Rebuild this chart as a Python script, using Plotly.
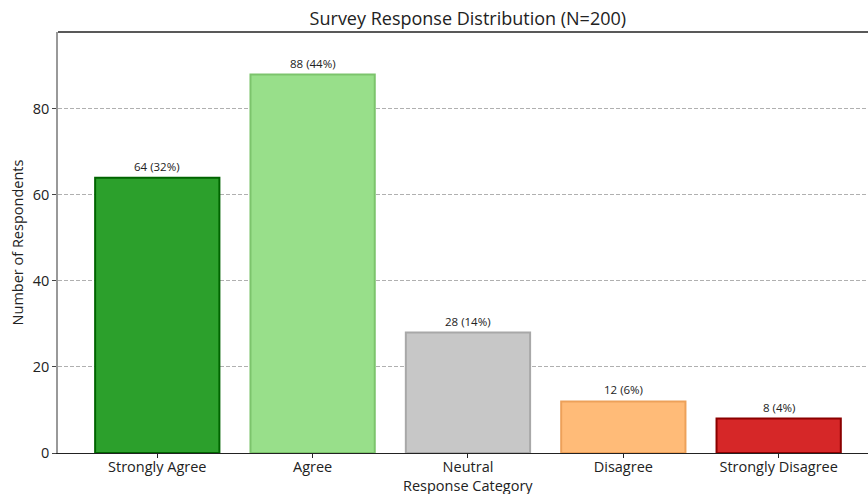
import plotly.graph_objects as go

categories = ["Strongly Agree", "Agree", "Neutral", "Disagree", "Strongly Disagree"]
counts = [64, 88, 28, 12, 8]
total = 200
fill_colors = ["#2ca02c", "#98df8a", "#c7c7c7", "#ffbb78", "#d62728"]
edge_colors = ["#006400", "#7cc46c", "#a8a8a8", "#eda15a", "#8b0000"]
y_ticks = [0, 20, 40, 60, 80]

FONT = "Open Sans, sans-serif"

labels = [f"{c} ({round(c / total * 100)}%)" for c in counts]
xs = list(range(len(categories)))

fig = go.Figure()
fig.add_trace(go.Bar(
    x=xs, y=counts, width=0.8,
    marker=dict(color=fill_colors, line=dict(color=edge_colors, width=2)),
    hoverinfo="skip",
))

for x, c, t in zip(xs, counts, labels):
    fig.add_annotation(x=x, y=c, text=t, showarrow=False, yanchor="bottom",
                       yshift=2, font=dict(size=11.5, color="#222", family=FONT))

# x-axis title
fig.add_annotation(xref="paper", yref="paper", x=0.506, y=0, yanchor="middle",
                   xanchor="center", yshift=-32, showarrow=False,
                   text="Response Category", font=dict(size=14.5, color="#222", family=FONT))

# top spine
fig.add_shape(type="line", xref="paper", yref="paper", x0=0, x1=1, y0=1, y1=1,
              line=dict(color="#222", width=1.5))

fig.update_layout(
    width=868, height=494,
    margin=dict(l=58, r=0, t=32, b=41),
    plot_bgcolor="white", paper_bgcolor="white",
    showlegend=False,
    font=dict(family=FONT, color="#222"),
    title=dict(text="Survey Response Distribution (N=200)", xref="paper", x=0.506,
               xanchor="center", y=0.962, yanchor="middle",
               font=dict(size=18, color="#222", family=FONT)),
    bargap=0.2,
)
fig.update_xaxes(
    range=[-0.639, 4.575], tickvals=xs, ticktext=categories,
    showline=True, linecolor="#222", linewidth=1.2,
    ticks="outside", ticklen=4, tickcolor="#222", ticklabelstandoff=-4,
    tickfont=dict(size=14.5, color="#222"),
    showgrid=False, zeroline=False, automargin=False,
)
fig.update_yaxes(
    range=[0, 97.9], tickvals=y_ticks,
    showline=True, linecolor="#999", linewidth=1.5,
    ticks="outside", ticklen=4, tickcolor="#444",
    tickfont=dict(size=14.5, color="#222"),
    title=dict(text="Number of Respondents", font=dict(size=14.5, color="#222"), standoff=6),
    showgrid=True, gridcolor="#b0b0b0", griddash="4px,2px", gridwidth=1,
    zeroline=False, automargin=False,
)

fig.write_html("out.html", config={"displayModeBar": False},
               post_script="document.body.style.margin='0';")
